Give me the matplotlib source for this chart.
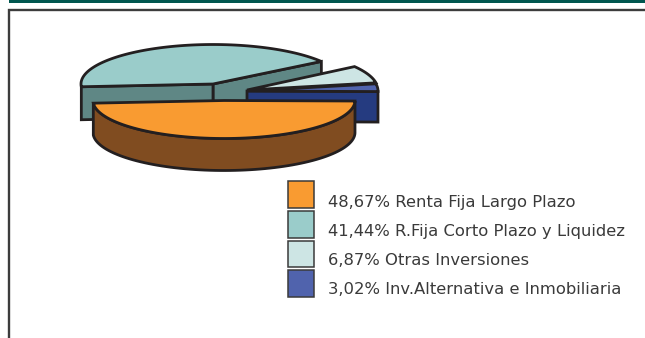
import numpy as np
import matplotlib
matplotlib.use("Agg")
import matplotlib.pyplot as plt
from matplotlib.patches import Polygon, Rectangle

# Data
labels = ["Renta Fija Largo Plazo", "R.Fija Corto Plazo y Liquidez",
          "Otras Inversiones", "Inv.Alternativa e Inmobiliaria"]
shares = [48.67, 41.44, 6.87, 3.02]
share_text = ["48,67%", "41,44%", "6,87%", "3,02%"]

# Colours
top_colors = ["#f99b31", "#9accca", "#cde5e4", "#5063ad"]
side_colors = ["#804c20", "#5f8785", "#cde5e4", "#253b80"]
edge = "#231f20"

# Slice geometry, in pixels: centre x, centre y, x radius, y radius, depth
slices = [(224, 100.5, 131, 38, 32),
          (213, 84, 132, 39.5, 33),
          (247, 90, 131, 41, 0),
          (247, 91, 131, 41, 30.5)]
LW = 2.0


def wedge_outline(idx, start, sweep):
    cx, cy, rx, ry, depth = slices[idx]
    t = np.radians(np.linspace(start, start + sweep, 80))
    xs = cx + rx * np.cos(t)
    ys = cy - ry * np.sin(t)
    return cx, cy, xs, ys, depth


def face(ax, xy, color):
    ax.add_patch(Polygon(xy, closed=True, fc=color, ec=edge, lw=LW, joinstyle="miter"))


fig = plt.figure(figsize=(6.45, 3.38), dpi=100)
ax = fig.add_axes([0, 0, 1, 1])
ax.set_xlim(0, 645)
ax.set_ylim(338, 0)
ax.axis("off")

# Header bar and frame
ax.add_patch(Rectangle((9, 0), 636, 2.5, fc="#00564f", ec="none"))
ax.plot([8.5, 8.5, 645], [338, 9.5, 9.5], color="#3c3c3c", lw=1.7, solid_joinstyle="miter")

# Slice angles follow the shares, clockwise from the left edge of the big slice
sweeps = [s / sum(shares) * 360 for s in shares]
start_big = 184.0
start_light = start_big - sweeps[1] - sweeps[2]
start_blue = start_light - sweeps[3]
start_orange = start_blue - sweeps[0]

# Teal slice: side faces then top
cx, cy, xs, ys, d = wedge_outline(1, start_light + sweeps[2], sweeps[1])
face(ax, [(xs[0], ys[0]), (cx, cy), (cx, cy + d), (xs[0], ys[0] + d)], side_colors[1])
face(ax, [(cx, cy), (xs[-1], ys[-1]), (xs[-1], ys[-1] + d), (cx, cy + d)], side_colors[1])
face(ax, np.r_[[(cx, cy)], np.c_[xs, ys]], top_colors[1])

# Light slice
cx, cy, xs, ys, d = wedge_outline(2, start_light, sweeps[2])
face(ax, np.r_[[(cx, cy)], np.c_[xs, ys]], top_colors[2])

# Blue slice
cx, cy, xs, ys, d = wedge_outline(3, start_blue, sweeps[3])
face(ax, [(cx, cy), (xs[0], ys[0]), (xs[0], ys[0] + d), (cx, cy + d)], side_colors[3])
face(ax, np.r_[[(cx, cy)], np.c_[xs, ys]], top_colors[3])

# Orange slice: rim then top
cx, cy, xs, ys, d = wedge_outline(0, start_orange, sweeps[0])
face(ax, np.r_[np.c_[xs, ys], np.c_[xs, ys + d][::-1]], side_colors[0])
face(ax, np.r_[[(cx, cy)], np.c_[xs, ys]], top_colors[0])

# Legend
box_tops = [181, 211, 240.5, 270]
text_y = [202.5, 231.5, 260.5, 290]
for i in range(len(labels)):
    ax.add_patch(Rectangle((287.5, box_tops[i]), 26.5, 26.5, fc=top_colors[i], ec="#3a3a3a", lw=1.1))
    ax.text(328, text_y[i], f"{share_text[i]} {labels[i]}", fontsize=11.8,
            family="DejaVu Sans", color="#3a3a3a", va="center", ha="left")

fig.savefig("out.png", dpi=100)
